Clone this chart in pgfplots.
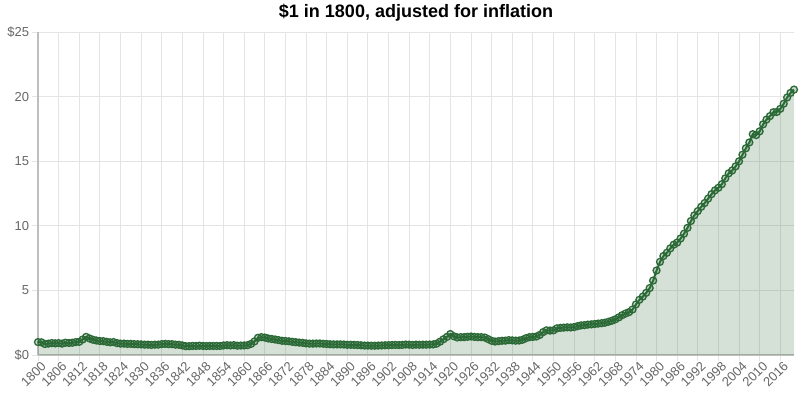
\documentclass[border=0pt]{standalone}
\usepackage{fontspec}
\setmainfont{Liberation Sans}
\usepackage{pgfplots}
\usepackage{pgfplotstable}
\pgfplotsset{compat=1.18}
\usetikzlibrary{calc}
\definecolor{lc}{RGB}{43,106,54}
\definecolor{gridc}{RGB}{228,228,228}
\definecolor{axc}{RGB}{190,190,190}
\definecolor{tickc}{RGB}{102,102,102}
\pgfplotstableread{
year value
1800 1.00
1801 0.98
1802 0.85
1803 0.88
1804 0.92
1805 0.90
1806 0.92
1807 0.88
1808 0.95
1809 0.93
1810 0.95
1811 1.00
1812 1.02
1813 1.20
1814 1.40
1815 1.28
1816 1.18
1817 1.12
1818 1.08
1819 1.07
1820 1.02
1821 0.98
1822 1.00
1823 0.92
1824 0.88
1825 0.88
1826 0.86
1827 0.86
1828 0.84
1829 0.83
1830 0.82
1831 0.80
1832 0.80
1833 0.78
1834 0.80
1835 0.80
1836 0.84
1837 0.86
1838 0.84
1839 0.84
1840 0.80
1841 0.79
1842 0.74
1843 0.68
1844 0.68
1845 0.70
1846 0.70
1847 0.72
1848 0.70
1849 0.69
1850 0.70
1851 0.70
1852 0.70
1853 0.70
1854 0.74
1855 0.76
1856 0.74
1857 0.76
1858 0.72
1859 0.73
1860 0.74
1861 0.76
1862 0.86
1863 1.05
1864 1.33
1865 1.38
1866 1.35
1867 1.28
1868 1.24
1869 1.20
1870 1.15
1871 1.10
1872 1.08
1873 1.06
1874 1.02
1875 0.99
1876 0.96
1877 0.94
1878 0.90
1879 0.88
1880 0.88
1881 0.89
1882 0.89
1883 0.87
1884 0.85
1885 0.83
1886 0.82
1887 0.82
1888 0.82
1889 0.81
1890 0.79
1891 0.79
1892 0.78
1893 0.77
1894 0.75
1895 0.73
1896 0.73
1897 0.72
1898 0.72
1899 0.73
1900 0.74
1901 0.75
1902 0.76
1903 0.77
1904 0.78
1905 0.77
1906 0.78
1907 0.81
1908 0.80
1909 0.78
1910 0.80
1911 0.79
1912 0.80
1913 0.80
1914 0.81
1915 0.82
1916 0.88
1917 1.03
1918 1.22
1919 1.40
1920 1.62
1921 1.45
1922 1.36
1923 1.38
1924 1.38
1925 1.41
1926 1.43
1927 1.40
1928 1.38
1929 1.38
1930 1.35
1931 1.23
1932 1.10
1933 1.04
1934 1.07
1935 1.10
1936 1.11
1937 1.15
1938 1.13
1939 1.11
1940 1.12
1941 1.18
1942 1.30
1943 1.38
1944 1.40
1945 1.43
1946 1.55
1947 1.77
1948 1.91
1949 1.89
1950 1.91
1951 2.06
1952 2.10
1953 2.12
1954 2.14
1955 2.13
1956 2.16
1957 2.23
1958 2.29
1959 2.31
1960 2.35
1961 2.37
1962 2.40
1963 2.43
1964 2.46
1965 2.50
1966 2.57
1967 2.65
1968 2.76
1969 2.91
1970 3.08
1971 3.21
1972 3.32
1973 3.52
1974 3.91
1975 4.27
1976 4.52
1977 4.81
1978 5.18
1979 5.76
1980 6.54
1981 7.21
1982 7.66
1983 7.91
1984 8.25
1985 8.54
1986 8.70
1987 9.02
1988 9.39
1989 9.84
1990 10.37
1991 10.81
1992 11.14
1993 11.47
1994 11.76
1995 12.10
1996 12.45
1997 12.74
1998 12.94
1999 13.22
2000 13.67
2001 14.06
2002 14.28
2003 14.60
2004 14.99
2005 15.50
2006 16.00
2007 16.45
2008 17.09
2009 17.02
2010 17.31
2011 17.85
2012 18.22
2013 18.49
2014 18.79
2015 18.81
2016 19.05
2017 19.45
2018 19.93
2019 20.29
2020 20.54
}\datatable
\begin{document}
\begin{tikzpicture}
\begin{axis}[
  scale only axis,
  width=567pt, height=242.25pt,
  xmin=1800, xmax=2020,
  ymin=0, ymax=25,
  xtick={1800,1806,...,2016},
  ytick={0,5,10,15,20,25},
  yticklabels={\$0,5,10,15,20,\$25},
  grid=major,
  grid style={draw=gridc, line width=0.6pt},
  axis x line*=bottom,
  axis y line*=left,
  axis line style={draw=axc, line width=0.8pt, -},
  tick align=outside,
  major tick length=4.5pt,
  tick style={draw=gridc, line width=0.6pt},
  /pgf/number format/assume math mode=true,
  /pgf/number format/1000 sep={},
  tick label style={font=\fontsize{9.75}{11}\selectfont, text=tickc},
  x tick label style={rotate=45, anchor=north east, inner sep=1pt, xshift=2.5pt},
  y tick label style={inner sep=2pt},
  title={\$1 in 1800, adjusted for inflation},
  every axis title/.style={at={(0.5,1)}, anchor=center, yshift=14.25pt, font=\bfseries\fontsize{13.5}{15}\selectfont},
  clip=false,
]
\coordinate (bl) at (rel axis cs:0,0);
\coordinate (tr) at (rel axis cs:1,1);
\addplot[draw=none, fill=lc, fill opacity=0.2] table[x=year, y=value] {\datatable} \closedcycle;
\addplot[draw=lc, line width=1.5pt, mark=*, mark size=2.6pt,
  mark options={draw=lc, line width=1pt, fill=lc, fill opacity=0.25}]
  table[x=year, y=value] {\datatable};
\end{axis}
\pgfresetboundingbox
\path[use as bounding box] ($(bl)+(-28.5pt,-34.5pt)$) rectangle ($(tr)+(4.5pt,24pt)$);
\end{tikzpicture}
\end{document}
